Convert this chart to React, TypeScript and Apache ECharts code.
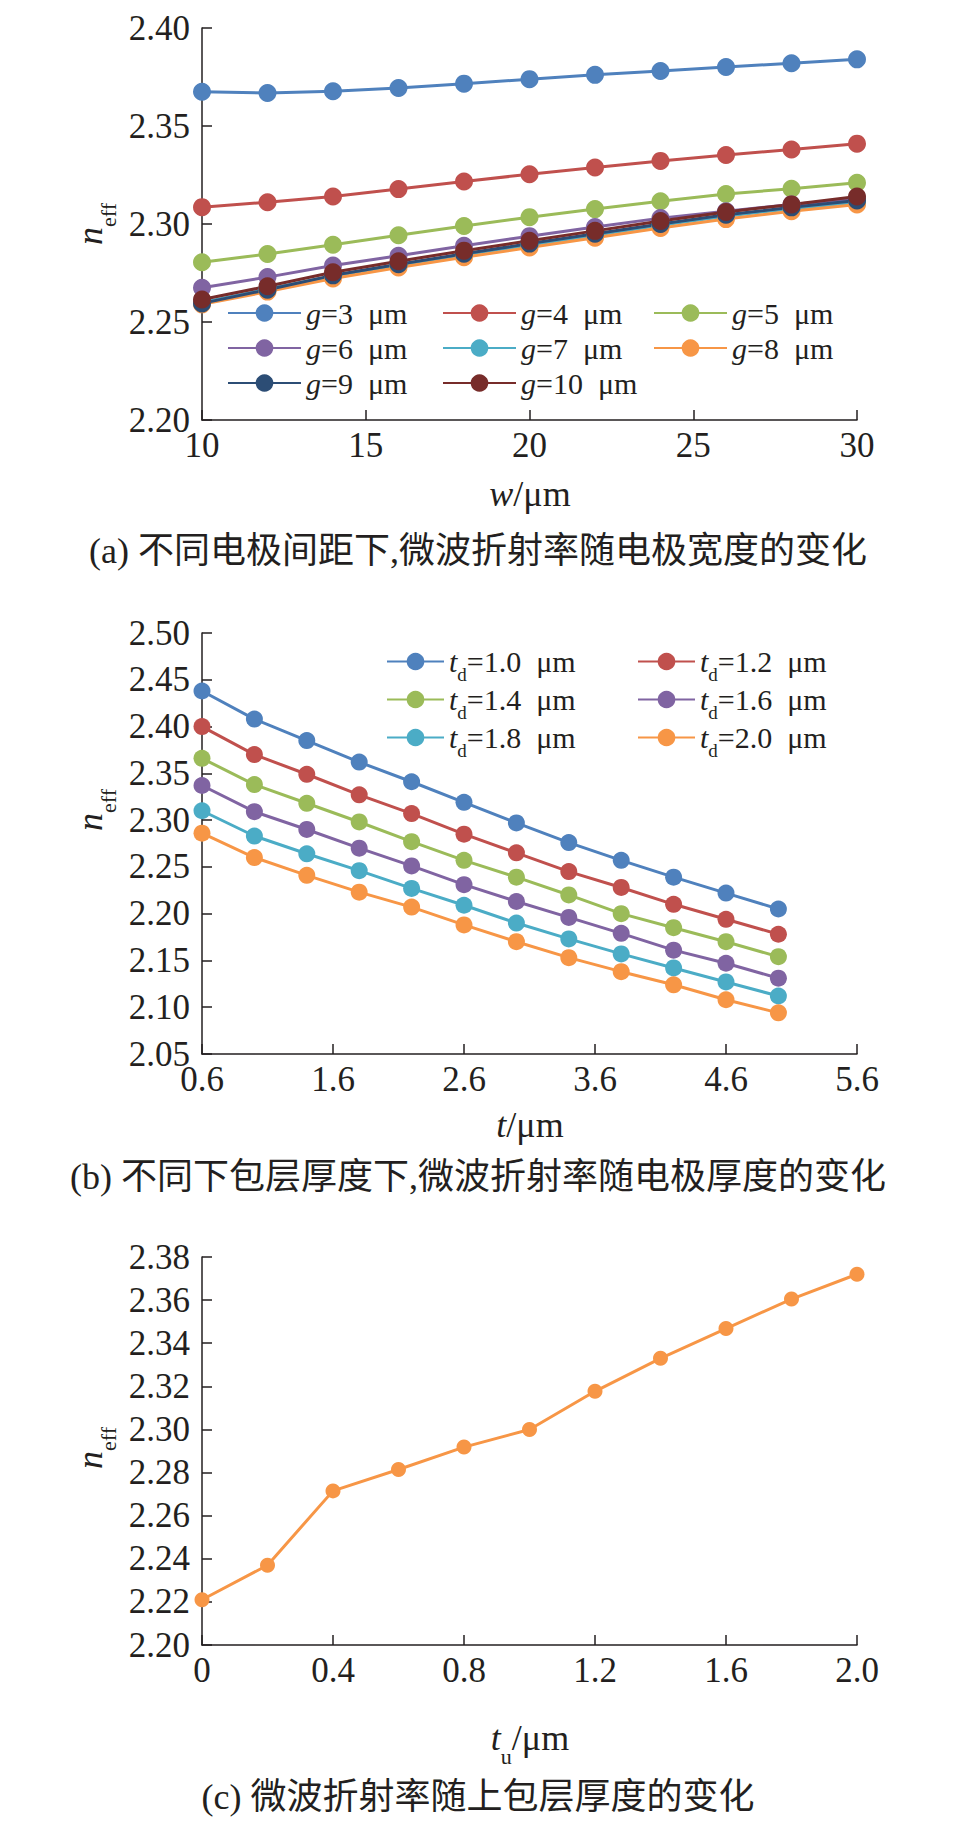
import React, { useEffect, useRef } from 'react';
import * as echarts from 'echarts';

const SERIF = '"Liberation Serif", "Times New Roman", serif';
const CJK = '"Liberation Serif", "Noto Sans CJK SC", serif';
const INK = '#231f20';

// ---------- (a) n_eff vs electrode width for different gaps ----------
const wA = [10, 12, 14, 16, 18, 20, 22, 24, 26, 28, 30];
const g3 = [2.3675, 2.3668, 2.3677, 2.3694, 2.3716, 2.3739, 2.3761, 2.3781, 2.3801, 2.382, 2.384];
const g4 = [2.3086, 2.3111, 2.314, 2.3178, 2.3217, 2.3254, 2.3288, 2.3322, 2.3352, 2.338, 2.341];
const g5 = [2.2805, 2.2847, 2.2894, 2.2943, 2.299, 2.3035, 2.3076, 2.3116, 2.3153, 2.318, 2.321];
const g6 = [2.2675, 2.2729, 2.2788, 2.2838, 2.2889, 2.2938, 2.2985, 2.303, 2.3065, 2.31, 2.313];
const g7 = [2.26, 2.2668, 2.2735, 2.279, 2.2843, 2.2893, 2.2943, 2.2993, 2.304, 2.3078, 2.311];
const g8 = [2.259, 2.2655, 2.2722, 2.2778, 2.283, 2.288, 2.293, 2.298, 2.3025, 2.3065, 2.31];
const g9 = [2.2595, 2.2665, 2.2738, 2.2795, 2.2848, 2.29, 2.295, 2.3, 2.3047, 2.3085, 2.312];
const g10 = [2.2615, 2.2682, 2.2754, 2.281, 2.2864, 2.2914, 2.2965, 2.3015, 2.3061, 2.31, 2.314];
const gNames = ['g=3 μm', 'g=4 μm', 'g=5 μm', 'g=6 μm', 'g=7 μm', 'g=8 μm', 'g=9 μm', 'g=10 μm'];
const gSeries = [g3, g4, g5, g6, g7, g8, g9, g10];
const gColors = ['#4F81BD', '#C0504D', '#9BBB59', '#8064A2', '#4BACC6', '#F79646', '#2C4D75', '#772C2A'];

// ---------- (b) n_eff vs electrode thickness for different lower cladding ----------
const tB = [0.6, 1.0, 1.4, 1.8, 2.2, 2.6, 3.0, 3.4, 3.8, 4.2, 4.6, 5.0];
const td10 = [2.438, 2.408, 2.385, 2.362, 2.341, 2.319, 2.297, 2.276, 2.257, 2.239, 2.222, 2.205];
const td12 = [2.4, 2.37, 2.349, 2.327, 2.307, 2.285, 2.265, 2.245, 2.228, 2.21, 2.194, 2.178];
const td14 = [2.366, 2.338, 2.318, 2.298, 2.277, 2.257, 2.239, 2.22, 2.2, 2.185, 2.17, 2.154];
const td16 = [2.337, 2.309, 2.29, 2.27, 2.251, 2.231, 2.213, 2.196, 2.179, 2.161, 2.147, 2.131];
const td18 = [2.31, 2.283, 2.264, 2.246, 2.227, 2.209, 2.19, 2.173, 2.157, 2.142, 2.127, 2.112];
const td20 = [2.286, 2.26, 2.241, 2.223, 2.207, 2.188, 2.17, 2.153, 2.138, 2.124, 2.108, 2.094];
const tdNames = ['t_d=1.0 μm', 't_d=1.2 μm', 't_d=1.4 μm', 't_d=1.6 μm', 't_d=1.8 μm', 't_d=2.0 μm'];
const tdSeries = [td10, td12, td14, td16, td18, td20];
const tdColors = ['#4F81BD', '#C0504D', '#9BBB59', '#8064A2', '#4BACC6', '#F79646'];

// ---------- (c) n_eff vs upper cladding thickness ----------
const tuC = [0, 0.2, 0.4, 0.6, 0.8, 1.0, 1.2, 1.4, 1.6, 1.8, 2.0];
const neffC = [2.221, 2.237, 2.2715, 2.2814, 2.2918, 2.3, 2.3177, 2.333, 2.3468, 2.3605, 2.372];
const colorC = '#F79646';

const captions = [
  '(a) 不同电极间距下,微波折射率随电极宽度的变化',
  '(b) 不同下包层厚度下,微波折射率随电极厚度的变化',
  '(c) 微波折射率随上包层厚度的变化',
];

const pairs = (xs: number[], ys: number[]) => xs.map((x, i) => [x, ys[i]]);

const axisStyle = {
  axisLine: { show: true, lineStyle: { color: INK, width: 1.5 } },
  axisTick: { show: true, inside: true, length: 10, lineStyle: { color: INK, width: 1.5 } },
  splitLine: { show: false },
};

const makeX = (gridIndex: number, min: number, max: number, interval: number, fmt: (v: number) => string) => ({
  type: 'value',
  gridIndex,
  min,
  max,
  interval,
  ...axisStyle,
  axisLabel: { fontFamily: SERIF, fontSize: 35, color: INK, margin: 8, formatter: fmt },
});

const makeY = (gridIndex: number, min: number, max: number, interval: number, fmt: (v: number) => string) => ({
  type: 'value',
  gridIndex,
  min,
  max,
  interval,
  ...axisStyle,
  axisLabel: { fontFamily: SERIF, fontSize: 35, color: INK, margin: 12, formatter: fmt },
});

const legendRich = {
  i: { fontFamily: SERIF, fontSize: 30, fontStyle: 'italic', color: INK, lineHeight: 44 },
  n: { fontFamily: SERIF, fontSize: 30, color: INK, lineHeight: 44 },
  s: { fontFamily: SERIF, fontSize: 19, color: INK, lineHeight: 18, padding: [26, 0, 0, 0] },
};

const titleRich = {
  i: { fontFamily: SERIF, fontSize: 36, fontStyle: 'italic', fill: INK, lineHeight: 60 } as any,
  n: { fontFamily: SERIF, fontSize: 36, fill: INK, lineHeight: 60 } as any,
  s: { fontFamily: SERIF, fontSize: 22, fill: INK, lineHeight: 22, padding: [36, 0, 0, 0] } as any,
};

export default function App() {
  const ref = useRef<HTMLDivElement>(null);
  useEffect(() => {
    document.body.style.margin = '0';
    if (!ref.current) return;
    const chart = echarts.init(ref.current, null, { renderer: 'svg' });

    const series: any[] = [];
    gNames.forEach((name, i) => {
      series.push({
        name,
        type: 'line',
        xAxisIndex: 0,
        yAxisIndex: 0,
        data: pairs(wA, gSeries[i]),
        symbol: 'circle',
        symbolSize: 18,
        lineStyle: { width: 3, color: gColors[i] },
        itemStyle: { color: gColors[i] },
        emphasis: { disabled: true },
      });
    });
    tdNames.forEach((name, i) => {
      series.push({
        name,
        type: 'line',
        xAxisIndex: 1,
        yAxisIndex: 1,
        data: pairs(tB, tdSeries[i]),
        symbol: 'circle',
        symbolSize: 17,
        lineStyle: { width: 3, color: tdColors[i] },
        itemStyle: { color: tdColors[i] },
        emphasis: { disabled: true },
      });
    });
    series.push({
      name: 'n_eff(t_u)',
      type: 'line',
      xAxisIndex: 2,
      yAxisIndex: 2,
      data: pairs(tuC, neffC),
      symbol: 'circle',
      symbolSize: 15,
      lineStyle: { width: 3, color: colorC },
      itemStyle: { color: colorC },
      emphasis: { disabled: true },
    });

    const colsA = [227, 442, 653];
    const rowsA = [320, 355, 390];
    const colsB = [386, 637];
    const rowsB = [661, 699, 737];

    const legends: any[] = [];
    gNames.forEach((name, i) => {
      legends.push({
        data: [name],
        left: colsA[i % 3],
        top: rowsA[Math.floor(i / 3)] - 22,
        padding: 0,
        itemWidth: 73,
        itemHeight: 22,
        selectedMode: false,
        formatter: (nm: string) => `{i|g}{n|${nm.slice(1).replace(' μm', '\u2002μm')}}`,
        textStyle: { fontFamily: SERIF, fontSize: 30, color: INK, rich: legendRich },
      });
    });
    tdNames.forEach((name, i) => {
      legends.push({
        data: [name],
        left: colsB[i % 2],
        top: rowsB[Math.floor(i / 2)] - 22,
        padding: 0,
        itemWidth: 57,
        itemHeight: 22,
        selectedMode: false,
        formatter: (nm: string) => `{i|t}{s|d}{n|${nm.slice(3).replace(' μm', '\u2002μm')}}`,
        textStyle: { fontFamily: SERIF, fontSize: 30, color: INK, rich: legendRich },
      });
    });

    const yTitle = (y: number) => ({
      type: 'text',
      x: 90,
      y,
      rotation: Math.PI / 2,
      style: {
        text: '{i|n}{s|eff}',
        rich: titleRich,
        align: 'center',
        verticalAlign: 'middle',
        fill: INK,
      },
    });
    const xTitle = (y: number, text: string) => ({
      type: 'text',
      x: 530,
      y,
      style: { text, rich: titleRich, align: 'center', verticalAlign: 'middle', fill: INK },
    });
    const caption = (y: number, text: string) => ({
      type: 'text',
      x: 478,
      y,
      style: {
        text,
        font: `36px ${CJK}`,
        fill: INK,
        align: 'center',
        verticalAlign: 'middle',
      },
    });

    chart.setOption({
      animation: false,
      backgroundColor: '#ffffff',
      grid: [
        { left: 202, top: 28, width: 655, height: 392 },
        { left: 202, top: 633, width: 655, height: 421 },
        { left: 202, top: 1257, width: 655, height: 388 },
      ],
      xAxis: [
        makeX(0, 10, 30, 5, (v) => String(Math.round(v))),
        makeX(1, 0.6, 5.6, 1, (v) => v.toFixed(1)),
        makeX(2, 0, 2.0, 0.4, (v) => (Math.abs(v) < 1e-9 ? '0' : v.toFixed(1))),
      ],
      yAxis: [
        makeY(0, 2.2, 2.4, 0.05, (v) => v.toFixed(2)),
        makeY(1, 2.05, 2.5, 0.05, (v) => v.toFixed(2)),
        makeY(2, 2.2, 2.38, 0.02, (v) => v.toFixed(2)),
      ],
      legend: legends,
      series,
      graphic: [
        yTitle(224),
        yTitle(810),
        yTitle(1448),
        xTitle(494, '{i|w}{n|/μm}'),
        xTitle(1125, '{i|t}{n|/μm}'),
        xTitle(1738, '{i|t}{s|u}{n|/μm}'),
        caption(551, captions[0]),
        caption(1177, captions[1]),
        caption(1797, captions[2]),
      ],
    });
    return () => chart.dispose();
  }, []);
  return <div ref={ref} style={{ width: 962, height: 1827 }} />;
}
